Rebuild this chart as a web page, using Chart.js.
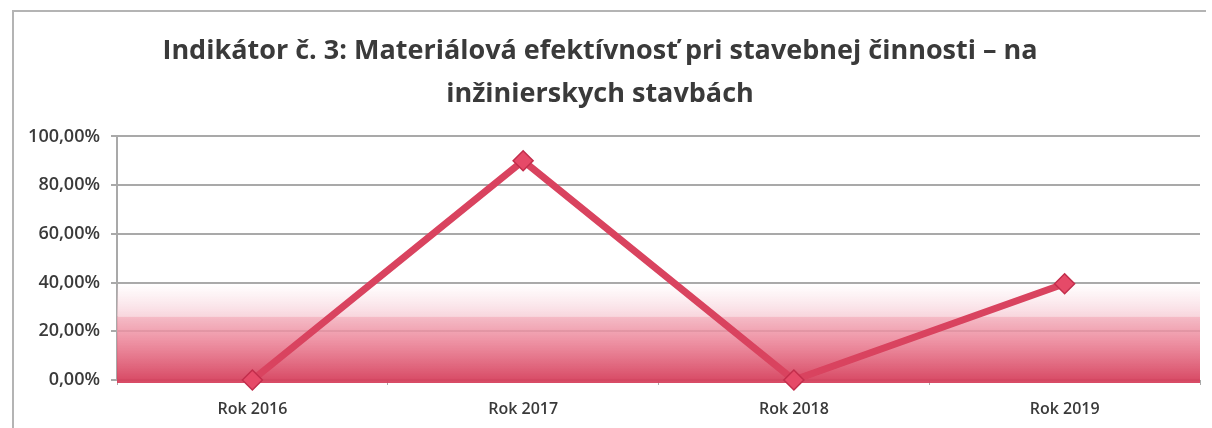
<!DOCTYPE html>
<html>
<head>
<meta charset="utf-8">
<script src="https://cdn.jsdelivr.net/npm/chart.js@4.4.1/dist/chart.umd.min.js"></script>
<style>
  html, body { margin: 0; padding: 0; background: #fff; }
  #wrap { position: relative; width: 1212px; height: 428px; }
  #frame {
    position: absolute; left: 12px; top: 10px; right: 6px; bottom: 0;
    border-top: 2px solid #b4b4b4; border-left: 2px solid #b4b4b4;
    pointer-events: none;
  }
  canvas { position: absolute; left: 0; top: 0; }
</style>
</head>
<body>
<div id="wrap">
  <canvas id="chart" width="1212" height="428"></canvas>
  <div id="frame"></div>
</div>
<script>
// Chart data
const TITLE_LINES = ['Indikátor č. 3: Materiálová efektívnosť pri stavebnej činnosti – na', 'inžinierskych stavbách'];
const CATEGORIES = ['Rok 2016', 'Rok 2017', 'Rok 2018', 'Rok 2019'];
const VALUES = [0, 90, 0, 39.5];
const Y_TICKS = [0, 20, 40, 60, 80, 100];

// Pink band behind the plot (value range in %)
const BAND_FADE_TOP = 40;
const BAND_TOP = 26;
const BAND_BOTTOM = 0;

const LINE_COLOR = '#d9435f';
const MARKER_FILL = '#e64a68';
const MARKER_BORDER = '#c22e4c';
const TEXT_COLOR = '#3a3a3a';
const GRID_COLOR = '#a9a9a9';

const bandPlugin = {
  id: 'band',
  beforeDatasetsDraw(chart) {
    const { ctx, chartArea, scales: { y } } = chart;
    const yFade = y.getPixelForValue(BAND_FADE_TOP);
    const yTop = y.getPixelForValue(BAND_TOP);
    const yBot = y.getPixelForValue(BAND_BOTTOM);
    ctx.save();
    // soft fade above the band
    let g = ctx.createLinearGradient(0, yFade, 0, yTop);
    g.addColorStop(0, 'rgba(248,215,222,0)');
    g.addColorStop(1, 'rgba(246,200,210,0.75)');
    ctx.fillStyle = g;
    ctx.fillRect(chartArea.left, yFade, chartArea.right - chartArea.left, yTop - yFade);
    // main band
    g = ctx.createLinearGradient(0, yTop, 0, yBot);
    g.addColorStop(0, 'rgba(242,170,184,0.8)');
    g.addColorStop(0.35, 'rgba(236,132,152,0.85)');
    g.addColorStop(1, 'rgba(214,66,94,0.95)');
    ctx.fillStyle = g;
    ctx.fillRect(chartArea.left, yTop, chartArea.right - chartArea.left, yBot - yTop + 3);
    ctx.restore();
  }
};

new Chart(document.getElementById('chart').getContext('2d'), {
  type: 'line',
  data: {
    labels: CATEGORIES,
    datasets: [{
      data: VALUES,
      borderColor: LINE_COLOR,
      borderWidth: 7,
      tension: 0,
      fill: false,
      pointStyle: 'rectRot',
      pointRadius: 10,
      pointBackgroundColor: MARKER_FILL,
      pointBorderColor: MARKER_BORDER,
      pointBorderWidth: 1.5,
      clip: false,
    }],
  },
  options: {
    responsive: false,
    animation: false,
    devicePixelRatio: 1,
    layout: { padding: { left: 0, right: 12, top: 0, bottom: 0 } },
    plugins: {
      legend: { display: false },
      tooltip: { enabled: false },
      title: {
        display: true,
        text: TITLE_LINES,
        color: TEXT_COLOR,
        font: { family: 'Open Sans', size: 27, weight: 'bold', lineHeight: 1.6 },
        padding: { top: 30, bottom: 20 },
      },
    },
    scales: {
      x: {
        offset: true,
        afterFit(scale) { scale.height = 48; },
        grid: { display: true, offset: true, drawOnChartArea: false, color: GRID_COLOR, lineWidth: 1, tickLength: 5 },
        border: { display: false },
        ticks: { color: TEXT_COLOR, font: { family: 'Open Sans', size: 16, weight: '600' }, padding: 15 },
      },
      y: {
        min: 0,
        max: 100,
        afterBuildTicks(scale) { scale.ticks = Y_TICKS.map(v => ({ value: v })); },
        afterFit(scale) { scale.width = 117; },
        grid: { color: GRID_COLOR, lineWidth: 2, tickLength: 6 },
        border: { display: true, color: GRID_COLOR, width: 2 },
        ticks: {
          color: TEXT_COLOR,
          font: { family: 'Open Sans', size: 18, weight: '600' },
          padding: 11,
          callback: v => v.toFixed(2).replace('.', ',') + '%',
        },
      },
    },
  },
  plugins: [bandPlugin],
});
</script>
</body>
</html>
